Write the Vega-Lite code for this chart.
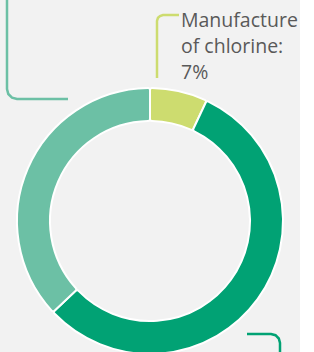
{
  "$schema": "https://vega.github.io/schema/vega-lite/v6.json",
  "width": 300,
  "height": 442,
  "padding": 0,
  "autosize": {"type": "none"},
  "background": "#f2f2f2",
  "config": {"view": {"stroke": null}},
  "layer": [
    {
      "data": {"values": [
        {"category": "Manufacture of chlorine", "share": 7, "rank": 1},
        {"category": "Other use A", "share": 56, "rank": 2},
        {"category": "Other use B", "share": 37, "rank": 3}
      ]},
      "mark": {"type": "arc", "radius": 133, "radius2": 100, "stroke": "#ffffff", "strokeWidth": 2, "cornerRadius": 2},
      "encoding": {
        "theta": {"field": "share", "type": "quantitative", "stack": true},
        "order": {"field": "rank", "type": "quantitative"},
        "color": {"field": "category", "type": "nominal", "legend": null,
          "scale": {"domain": ["Manufacture of chlorine", "Other use A", "Other use B"], "range": ["#cddc6f", "#01a274", "#6cc0a5"]}}
      }
    },
    {
      "data": {"values": [
        {"series": "Manufacture of chlorine", "i": 1, "px": 157, "py": 78},
        {"series": "Manufacture of chlorine", "i": 2, "px": 157, "py": 21},
        {"series": "Manufacture of chlorine", "i": 3, "px": 158, "py": 17.8},
        {"series": "Manufacture of chlorine", "i": 4, "px": 160, "py": 16},
        {"series": "Manufacture of chlorine", "i": 5, "px": 163, "py": 15},
        {"series": "Manufacture of chlorine", "i": 6, "px": 179, "py": 15},
        {"series": "Other use B", "i": 1, "px": 7, "py": -5},
        {"series": "Other use B", "i": 2, "px": 7, "py": 89},
        {"series": "Other use B", "i": 3, "px": 8.3, "py": 94},
        {"series": "Other use B", "i": 4, "px": 12, "py": 97.7},
        {"series": "Other use B", "i": 5, "px": 17, "py": 99},
        {"series": "Other use B", "i": 6, "px": 68, "py": 99},
        {"series": "Other use A", "i": 1, "px": 247, "py": 334},
        {"series": "Other use A", "i": 2, "px": 271, "py": 334},
        {"series": "Other use A", "i": 3, "px": 275.5, "py": 335.2},
        {"series": "Other use A", "i": 4, "px": 278.8, "py": 338.5},
        {"series": "Other use A", "i": 5, "px": 280, "py": 343},
        {"series": "Other use A", "i": 6, "px": 280, "py": 360}
      ]},
      "mark": {"type": "line", "strokeWidth": 2.5, "strokeCap": "butt", "clip": false},
      "encoding": {
        "x": {"field": "px", "type": "quantitative", "axis": null, "scale": {"domain": [0, 300], "nice": false, "zero": false}},
        "y": {"field": "py", "type": "quantitative", "axis": null, "scale": {"domain": [0, 442], "nice": false, "zero": false, "reverse": true}},
        "detail": {"field": "series"},
        "order": {"field": "i", "type": "quantitative"},
        "color": {"field": "series", "type": "nominal", "legend": null,
          "scale": {"domain": ["Manufacture of chlorine", "Other use A", "Other use B"], "range": ["#cddc6f", "#01a274", "#6cc0a5"]}}
      }
    },
    {
      "data": {"values": [
        {"label": ["Manufacture", "of chlorine:", "7%"], "px": 181, "py": 27}
      ]},
      "mark": {"type": "text", "align": "left", "baseline": "alphabetic", "font": "Open Sans", "fontSize": 19.5, "lineHeight": 26, "color": "#595959"},
      "encoding": {
        "x": {"field": "px", "type": "quantitative"},
        "y": {"field": "py", "type": "quantitative"},
        "text": {"field": "label"}
      }
    }
  ]
}
